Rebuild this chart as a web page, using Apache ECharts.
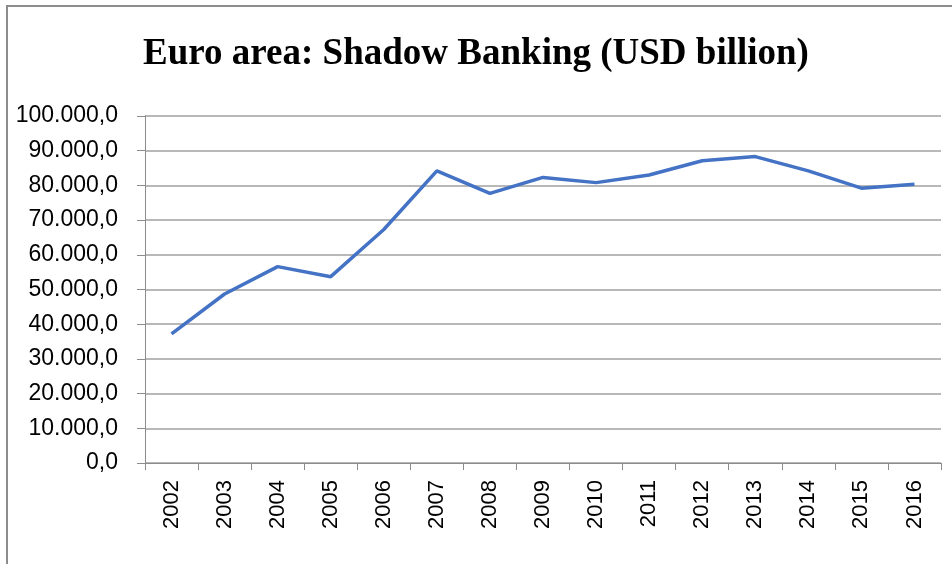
<!DOCTYPE html>
<html>
<head>
<meta charset="utf-8">
<script src="https://cdn.jsdelivr.net/npm/echarts@6/dist/echarts.min.js"></script>
<style>
    html, body { margin: 0; padding: 0; background: #fff; }
    #chart { width: 952px; height: 564px; }
</style>
</head>
<body>
<div id="chart"></div>
<script>
var years = ['2002', '2003', '2004', '2005', '2006', '2007', '2008', '2009',
    '2010', '2011', '2012', '2013', '2014', '2015', '2016'];
var shadowBanking = [37200, 48700, 56600, 53700, 67300, 84200, 77700, 82300,
    80800, 83000, 87100, 88300, 84200, 79200, 80300];

function formatValue(v) {
    // 100000 -> "100.000,0"
    var s = Math.round(v).toString().replace(/\B(?=(\d{3})+(?!\d))/g, '.');
    return s + ',0';
}

var chart = echarts.init(document.getElementById('chart'));

var option = {
    animation: false,
    title: {
        text: 'Euro area: Shadow Banking (USD billion)',
        left: 'center',
        top: 31,
        textStyle: {
            fontFamily: 'Liberation Serif',
            fontWeight: 'bold',
            fontSize: 37,
            color: '#000'
        }
    },
    graphic: [{
        type: 'polyline',
        shape: { points: [[7, 564], [7, 6], [952, 6]] },
        style: { stroke: '#8c8c8c', lineWidth: 2, fill: null }
    }],
    grid: {
        left: 145,
        right: 11,
        top: 116,
        bottom: 101
    },
    xAxis: {
        type: 'category',
        data: years,
        boundaryGap: true,
        axisLine: { lineStyle: { color: '#8c8c8c', width: 1 } },
        axisTick: { show: true, length: 7, lineStyle: { color: '#8c8c8c' } },
        axisLabel: {
            rotate: 90,
            margin: 17,
            fontFamily: 'Liberation Sans',
            fontSize: 22,
            color: '#000'
        }
    },
    yAxis: {
        type: 'value',
        min: 0,
        max: 100000,
        interval: 10000,
        axisLine: { show: true, lineStyle: { color: '#8c8c8c', width: 1 } },
        axisTick: { show: true, length: 8, lineStyle: { color: '#8c8c8c' } },
        splitLine: { lineStyle: { color: '#a0a0a0', width: 1.5 } },
        axisLabel: {
            margin: 27,
            fontFamily: 'Liberation Sans',
            fontSize: 23,
            color: '#000',
            formatter: formatValue
        }
    },
    series: [{
        name: 'Shadow Banking',
        type: 'line',
        data: shadowBanking,
        showSymbol: false,
        lineStyle: { color: '#4472c4', width: 3.5 }
    }]
};

chart.setOption(option);
</script>
</body>
</html>
